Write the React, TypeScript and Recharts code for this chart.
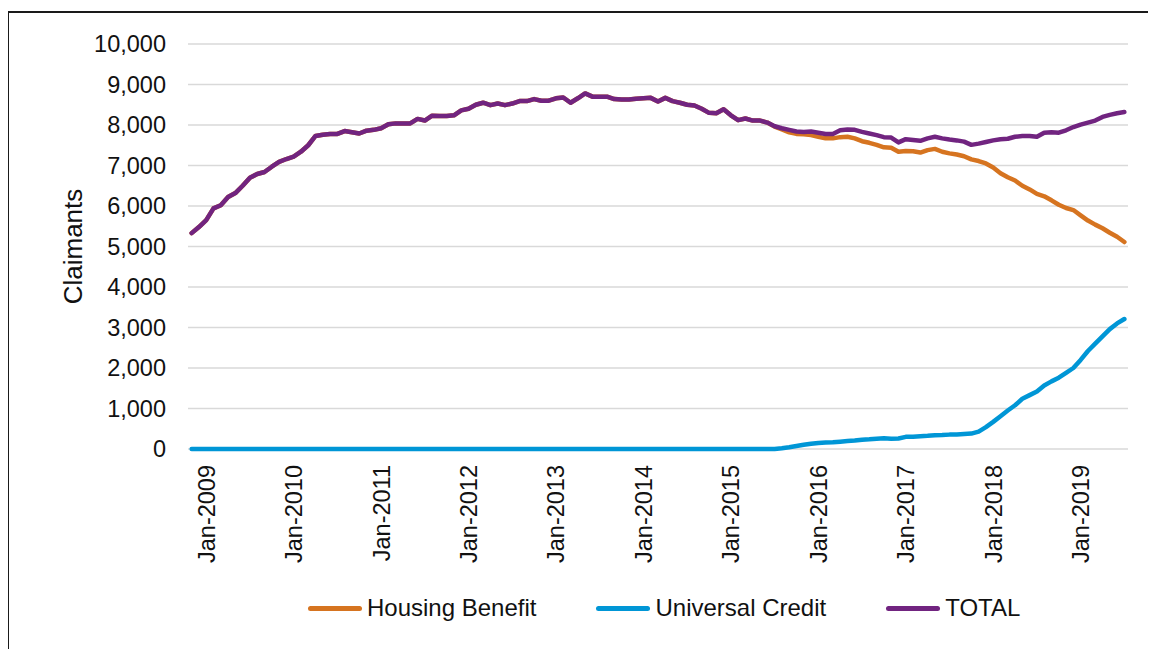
import React from 'react';
import { LineChart, Line, XAxis, YAxis, CartesianGrid, Legend } from 'recharts';

const MONTH_NAMES = ['Jan', 'Feb', 'Mar', 'Apr', 'May', 'Jun', 'Jul', 'Aug', 'Sep', 'Oct', 'Nov', 'Dec'];
const YEARS = [2009, 2010, 2011, 2012, 2013, 2014, 2015, 2016, 2017, 2018, 2019];

// Monthly categories Jan-2009 .. Sep-2019
const categories: string[] = [];
YEARS.forEach((y) => {
  MONTH_NAMES.forEach((m, mi) => {
    if (y === 2019 && mi > 8) return;
    categories.push(`${m}-${y}`);
  });
});

const yearTicks = [
  'Jan-2009', 'Jan-2010', 'Jan-2011', 'Jan-2012', 'Jan-2013', 'Jan-2014',
  'Jan-2015', 'Jan-2016', 'Jan-2017', 'Jan-2018', 'Jan-2019',
];

const yTicks = [0, 1000, 2000, 3000, 4000, 5000, 6000, 7000, 8000, 9000, 10000];

const seriesNames = ['Housing Benefit', 'Universal Credit', 'TOTAL'];

const housingBenefit = [
  5330, 5480, 5650, 5940, 6020, 6220, 6320, 6500, 6700, 6790, 6840, 6970,
  7090, 7160, 7220, 7340, 7500, 7730, 7760, 7780, 7780, 7850, 7820, 7790,
  7860, 7880, 7920, 8020, 8040, 8040, 8040, 8150, 8110, 8230, 8220, 8220,
  8240, 8360, 8400, 8500, 8550, 8490, 8530, 8490, 8530, 8590, 8590, 8640,
  8600, 8600, 8660, 8680, 8550, 8660, 8780, 8700, 8700, 8700, 8640, 8630,
  8630, 8650, 8660, 8670, 8580, 8670, 8590, 8550, 8500, 8480, 8400, 8300,
  8290, 8390, 8240, 8120, 8160, 8110, 8110, 8060, 7960, 7890, 7820, 7780,
  7770, 7750, 7710, 7670, 7670, 7700, 7710, 7670, 7600, 7560, 7510, 7450,
  7440, 7340, 7360, 7350, 7320, 7380, 7410, 7340, 7300, 7270, 7230, 7150,
  7110, 7050, 6950, 6810, 6710, 6630, 6500, 6410, 6300, 6240, 6140, 6030,
  5950, 5900, 5770, 5640, 5540, 5450, 5340, 5240, 5110,
];

const universalCredit = [
  0, 0, 0, 0, 0, 0, 0, 0, 0, 0, 0, 0,
  0, 0, 0, 0, 0, 0, 0, 0, 0, 0, 0, 0,
  0, 0, 0, 0, 0, 0, 0, 0, 0, 0, 0, 0,
  0, 0, 0, 0, 0, 0, 0, 0, 0, 0, 0, 0,
  0, 0, 0, 0, 0, 0, 0, 0, 0, 0, 0, 0,
  0, 0, 0, 0, 0, 0, 0, 0, 0, 0, 0, 0,
  0, 0, 0, 0, 0, 0, 0, 0, 0, 20, 45, 75,
  105, 130, 150, 160, 165, 180, 195, 210, 230, 240, 255, 265,
  255, 260, 300, 305, 315, 325, 340, 345, 355, 360, 370, 380,
  430, 540, 670, 810, 950, 1080, 1240, 1330, 1420, 1570, 1670, 1760,
  1880, 2000, 2200, 2420, 2600, 2780, 2960, 3100, 3210,
];

const total = [
  5330, 5480, 5650, 5940, 6020, 6220, 6320, 6500, 6700, 6790, 6840, 6970,
  7090, 7160, 7220, 7340, 7500, 7730, 7760, 7780, 7780, 7850, 7820, 7790,
  7860, 7880, 7920, 8020, 8040, 8040, 8040, 8150, 8110, 8230, 8220, 8220,
  8240, 8360, 8400, 8500, 8550, 8490, 8530, 8490, 8530, 8590, 8590, 8640,
  8600, 8600, 8660, 8680, 8550, 8660, 8780, 8700, 8700, 8700, 8640, 8630,
  8630, 8650, 8660, 8670, 8580, 8670, 8590, 8550, 8500, 8480, 8400, 8300,
  8290, 8390, 8240, 8120, 8160, 8110, 8110, 8060, 7970, 7920, 7880, 7840,
  7830, 7840, 7810, 7780, 7780, 7870, 7890, 7880, 7830, 7790, 7750, 7700,
  7690, 7570, 7650, 7630, 7610, 7670, 7710, 7670, 7640, 7620, 7590, 7510,
  7540, 7580, 7620, 7650, 7660, 7710, 7730, 7730, 7710, 7810, 7820, 7810,
  7870, 7950, 8010, 8060, 8110, 8200, 8250, 8290, 8320,
];

const data = categories.map((month, i) => ({
  month,
  hb: housingBenefit[i],
  uc: universalCredit[i],
  total: total[i],
}));

const FONT = '"Liberation Sans", Arial, Helvetica, sans-serif';
const ORANGE = '#D67420';
const BLUE = '#0096D6';
const PURPLE = '#712480';
const TEXT = '#111111';

const XTick = (props: any) => {
  const { x, y, payload } = props;
  return (
    <g transform={`translate(${x},${y})`}>
      <text
        transform="rotate(-90)"
        x={-8}
        y={23}
        textAnchor="end"
        fontFamily={FONT}
        fontSize={23.5}
        fill={TEXT}
      >
        {payload.value}
      </text>
    </g>
  );
};

const YLabel = (props: any) => {
  const vb = props.viewBox || { x: 0, y: 0, width: 0, height: 0 };
  const cx = vb.x + 73;
  const cy = vb.y + vb.height / 2;
  return (
    <text
      transform={`translate(${cx},${cy}) rotate(-90)`}
      x={0}
      y={0}
      textAnchor="middle"
      fontFamily={FONT}
      fontSize={26}
      fill={TEXT}
    >
      Claimants
    </text>
  );
};

const LegendContent = (props: any) => {
  const payload = [...(props.payload || [])].sort(
    (a: any, b: any) => seriesNames.indexOf(a.value) - seriesNames.indexOf(b.value)
  );
  return (
    <div
      style={{
        height: 40,
        display: 'flex',
        alignItems: 'center',
        paddingLeft: 299,
        boxSizing: 'border-box',
        fontFamily: FONT,
        fontSize: 24,
        color: TEXT,
        lineHeight: '24px',
      }}
    >
      {payload.map((entry: any) => (
        <div key={entry.value} style={{ display: 'flex', alignItems: 'center', marginRight: 60 }}>
          <span
            style={{
              display: 'inline-block',
              width: 54,
              height: 5,
              borderRadius: 3,
              background: entry.color,
              marginRight: 5,
            }}
          />
          <span>{entry.value}</span>
        </div>
      ))}
    </div>
  );
};

export default function App() {
  return (
    <div
      style={{
        marginTop: 3,
        width: 1148,
        height: 660,
        boxSizing: 'border-box',
        borderTop: '2px solid #1a1a1a',
        borderLeft: '1px solid #1a1a1a',
        borderRight: '1px solid #d0d0d0',
        background: '#fff',
      }}
    >
      <LineChart
        width={1146}
        height={636}
        data={data}
        margin={{ top: 31, right: 27, left: 0, bottom: 21 }}
      >
        <CartesianGrid vertical={false} stroke="#d9d9d9" strokeWidth={1.5} />
        <XAxis
          dataKey="month"
          ticks={yearTicks}
          interval={0}
          tick={<XTick />}
          tickLine={false}
          axisLine={false}
          height={139}
          padding={{ left: 3.64, right: 3.64 }}
        />
        <YAxis
          width={179}
          domain={[0, 10000]}
          ticks={yTicks}
          interval={0}
          tickLine={false}
          axisLine={false}
          tickSize={6}
          tickMargin={16}
          tickFormatter={(v: number) => v.toLocaleString('en-GB')}
          tick={{ fontFamily: FONT, fontSize: 23.5, fill: TEXT }}
          label={{ value: 'Claimants', content: YLabel }}
        />
        <Legend
          verticalAlign="bottom"
          align="left"
          itemSorter={null as any}
          content={<LegendContent />}
          wrapperStyle={{ left: 0, width: 1146 }}
        />
        <Line
          type="linear"
          dataKey="hb"
          name="Housing Benefit"
          stroke={ORANGE}
          strokeWidth={4.5}
          dot={false}
          strokeLinecap="round"
          strokeLinejoin="round"
          isAnimationActive={false}
        />
        <Line
          type="linear"
          dataKey="uc"
          name="Universal Credit"
          stroke={BLUE}
          strokeWidth={4.5}
          dot={false}
          strokeLinecap="round"
          strokeLinejoin="round"
          isAnimationActive={false}
        />
        <Line
          type="linear"
          dataKey="total"
          name="TOTAL"
          stroke={PURPLE}
          strokeWidth={4.5}
          dot={false}
          strokeLinecap="round"
          strokeLinejoin="round"
          isAnimationActive={false}
        />
      </LineChart>
    </div>
  );
}
